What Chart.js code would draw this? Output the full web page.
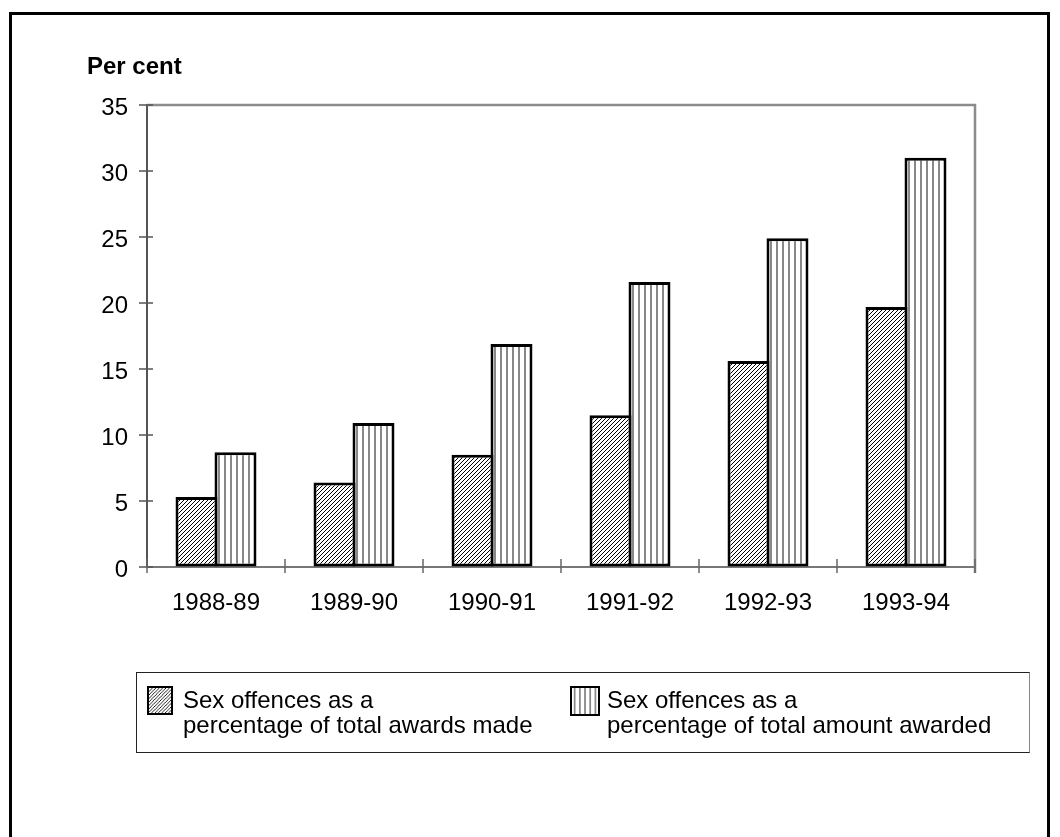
<!DOCTYPE html>
<html>
<head>
<meta charset="utf-8">
<title>Sex offences share of criminal injuries compensation</title>
<script src="https://cdn.jsdelivr.net/npm/chart.js@4/dist/chart.umd.min.js"></script>
<style>
  html, body { margin: 0; padding: 0; background: #fff; }
  body { width: 1060px; height: 837px; position: relative; overflow: hidden;
         font-family: "Liberation Sans", Arial, sans-serif; color: #000; }
  #chart { position: absolute; left: 0; top: 0; }
  .frame { position: absolute; left: 9px; top: 12px; width: 1035px; height: 840px;
           border: 3px solid #000; border-bottom: none; pointer-events: none; }
  .ytitle { position: absolute; left: 87px; top: 54px; font-size: 24px; font-weight: bold;
            line-height: 24px; white-space: nowrap; }
  .legend { position: absolute; left: 136px; top: 672px; width: 894px; height: 81px;
            border: 1px solid #222; border-right-color: #888; box-sizing: border-box; }
  .swatch { position: absolute; box-sizing: border-box; border: 2.5px solid #000; }
  .ltext { position: absolute; font-size: 24px; line-height: 25px; white-space: nowrap; }
</style>
</head>
<body>
<canvas id="chart" width="1060" height="837"></canvas>
<div class="ytitle" id="ytitle"></div>
<div class="legend" id="legend"></div>
<div class="frame"></div>
<script>
// Financial years on the category axis
const categories = ['1988-89', '1989-90', '1990-91', '1991-92', '1992-93', '1993-94'];

// Sex offences as a percentage of total awards made
const awardsMadePct = [5.3, 6.4, 8.5, 11.5, 15.6, 19.7];

// Sex offences as a percentage of total amount awarded
const amountAwardedPct = [8.7, 10.9, 16.9, 21.6, 24.9, 31.0];

const seriesLabels = [
  ['Sex offences as a', 'percentage of total awards made'],
  ['Sex offences as a', 'percentage of total amount awarded']
];

const yAxisTitle = 'Per cent';
const yMin = 0, yMax = 35, yStep = 5;

// ---- fill patterns -------------------------------------------------
function diagonalPattern(ctx) {
  const t = document.createElement('canvas');
  t.width = 4; t.height = 4;
  const c = t.getContext('2d');
  c.fillStyle = '#fff'; c.fillRect(0, 0, 4, 4);
  c.strokeStyle = '#000'; c.lineWidth = 1;
  c.beginPath();
  c.moveTo(-1, 5); c.lineTo(5, -1);
  c.moveTo(-1, 1); c.lineTo(1, -1);
  c.moveTo(3, 5); c.lineTo(5, 3);
  c.stroke();
  return ctx.createPattern(t, 'repeat');
}
function verticalPattern(ctx) {
  const t = document.createElement('canvas');
  t.width = 6; t.height = 2;
  const c = t.getContext('2d');
  c.fillStyle = '#fff'; c.fillRect(0, 0, 6, 2);
  c.fillStyle = '#888'; c.fillRect(2, 0, 2, 2);
  return ctx.createPattern(t, 'repeat');
}

const canvas = document.getElementById('chart');
const ctx = canvas.getContext('2d');
const hatch = diagonalPattern(ctx);
const stripes = verticalPattern(ctx);

// ---- plot frame and crossing tick marks ----------------------------
const frameAndTicks = {
  id: 'frameAndTicks',
  afterDraw(chart) {
    const { ctx, chartArea: a, scales: { x, y } } = chart;
    ctx.save();
    // top and right edges of the plot area
    ctx.strokeStyle = '#8c8c8c';
    ctx.lineWidth = 2.5;
    ctx.beginPath();
    ctx.moveTo(a.left, a.top); ctx.lineTo(a.right, a.top); ctx.lineTo(a.right, a.bottom + 6);
    ctx.stroke();
    // y ticks crossing the axis
    ctx.strokeStyle = '#555';
    ctx.lineWidth = 1.5;
    y.ticks.forEach((t, i) => {
      const py = Math.round(y.getPixelForTick(i));
      ctx.beginPath(); ctx.moveTo(a.left - 8, py); ctx.lineTo(a.left + 6, py); ctx.stroke();
    });
    // x ticks at category boundaries
    ctx.strokeStyle = '#666';
    const n = x.ticks.length;
    for (let i = 0; i <= n; i++) {
      const px = Math.round(a.left + (a.right - a.left) * i / n);
      ctx.beginPath(); ctx.moveTo(px, a.bottom - 8); ctx.lineTo(px, a.bottom + 6); ctx.stroke();
    }
    ctx.restore();
  }
};

const font = { family: '"Liberation Sans", Arial, sans-serif', size: 24 };

new Chart(ctx, {
  type: 'bar',
  data: {
    labels: categories,
    datasets: [
      { label: seriesLabels[0].join(' '), data: awardsMadePct, backgroundColor: hatch,
        borderColor: '#000', borderWidth: 3, borderSkipped: false },
      { label: seriesLabels[1].join(' '), data: amountAwardedPct, backgroundColor: stripes,
        borderColor: '#000', borderWidth: 3, borderSkipped: false }
    ]
  },
  options: {
    responsive: false,
    animation: false,
    devicePixelRatio: 1,
    layout: { padding: { top: 105, right: 85, left: 0, bottom: 0 } },
    datasets: { bar: { categoryPercentage: 0.565, barPercentage: 1.077 } },
    plugins: { legend: { display: false }, tooltip: { enabled: false } },
    scales: {
      x: {
        grid: { display: false, drawTicks: false },
        border: { color: '#777', width: 2 },
        ticks: { color: '#000', font: font, padding: 22, maxRotation: 0 },
        afterFit(s) { s.height = 837 - 567; }
      },
      y: {
        min: yMin, max: yMax,
        grid: { drawOnChartArea: false, drawTicks: false },
        border: { color: '#555', width: 2 },
        ticks: { stepSize: yStep, color: '#000', font: font, padding: 19, labelOffset: 3 },
        afterFit(s) { s.width = 147; }
      }
    }
  },
  plugins: [frameAndTicks]
});

// ---- axis title and legend -----------------------------------------
document.getElementById('ytitle').textContent = yAxisTitle;

const legend = document.getElementById('legend');
const legendItems = [
  { sw: { left: 10, top: 13, w: 26, h: 29 }, text: { left: 46, top: 14 }, fill: hatch },
  { sw: { left: 433, top: 13, w: 30, h: 30 }, text: { left: 470, top: 14 }, fill: stripes }
];
legendItems.forEach((it, i) => {
  const sw = document.createElement('canvas');
  sw.className = 'swatch';
  sw.width = it.sw.w; sw.height = it.sw.h;
  sw.style.left = it.sw.left + 'px'; sw.style.top = it.sw.top + 'px';
  sw.style.width = it.sw.w + 'px'; sw.style.height = it.sw.h + 'px';
  const c = sw.getContext('2d');
  c.fillStyle = i === 0 ? diagonalPattern(c) : verticalPattern(c);
  c.fillRect(0, 0, it.sw.w, it.sw.h);
  legend.appendChild(sw);
  const tx = document.createElement('div');
  tx.className = 'ltext';
  tx.style.left = it.text.left + 'px'; tx.style.top = it.text.top + 'px';
  seriesLabels[i].forEach(line => {
    const d = document.createElement('div');
    d.textContent = line;
    tx.appendChild(d);
  });
  legend.appendChild(tx);
});
</script>
</body>
</html>
